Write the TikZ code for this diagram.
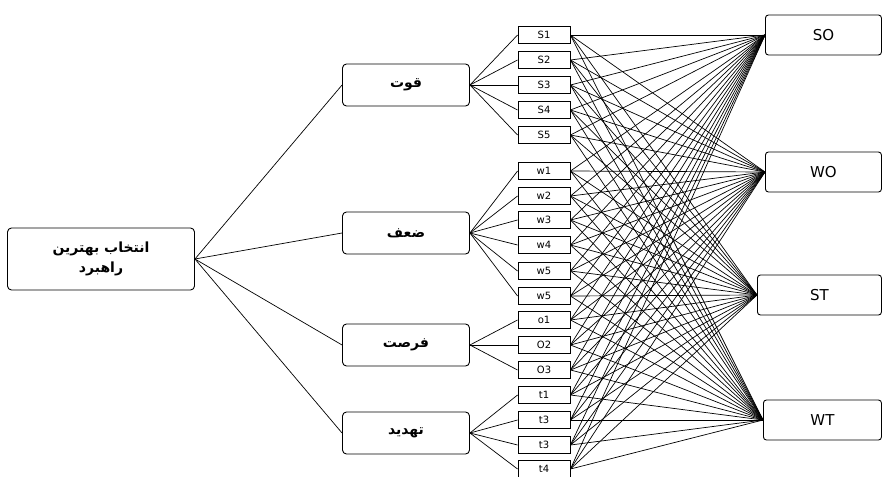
\documentclass[tikz,border=0pt]{standalone}
\usepackage{fontspec}
\setmainfont{DejaVu Sans}
\newfontfamily\arabicfont[Script=Arabic]{DejaVu Sans}
\TeXXeTstate=1
\usetikzlibrary{positioning}
\tikzset{
  goal box/.style={draw, line width=0.9pt, rounded corners=4pt, minimum width=187pt, minimum height=62pt,
    align=center, font=\arabicfont\bfseries\fontsize{14}{20}\selectfont},
  group box/.style={draw, line width=0.9pt, rounded corners=4pt, minimum width=127pt, minimum height=42pt,
    font=\arabicfont\bfseries\fontsize{14}{16}\selectfont},
  item box/.style={draw, line width=0.9pt, minimum width=52pt, minimum height=17pt, inner sep=0pt,
    font=\fontsize{10}{11}\selectfont},
  result box/.style={draw, line width=0.9pt, rounded corners=3pt, minimum height=40pt, anchor=west,
    font=\fontsize{15}{17}\selectfont},
  link/.style={line width=0.7pt}
}
\begin{document}
\begin{tikzpicture}[x=1pt,y=-1pt]
  \useasboundingbox (0,0) rectangle (882,476);
  % goal
  \node[goal box] (goal) at (101,259) {\beginR انتخاب بهترین\endR\\\beginR راهبرد\endR};

  % swot groups
  \node[group box] (S) at (406,85)  {\beginR قوت\endR};
  \node[group box] (W) at (406,233) {\beginR ضعف\endR};
  \node[group box] (O) at (406,345) {\beginR فرصت\endR};
  \node[group box] (T) at (406,433) {\beginR تهدید\endR};

  % factors
  \foreach \name/\txt/\y in {s1/S1/35, s2/S2/60, s3/S3/85, s4/S4/110, s5/S5/135,
      w1/w1/171, w2/w2/196, w3/w3/220, w4/w4/245, w5/w5/271, w6/w5/296,
      o1/o1/320, o2/O2/345, o3/O3/370,
      t1/t1/395, t2/t3/420, t3/t3/445, t4/t4/469}
    \node[item box] (\name) at (544,\y) {\txt};

  % strategies
  \node[result box, minimum width=116pt] (SO) at (765,35)  {SO};
  \node[result box, minimum width=116pt] (WO) at (765,172) {WO};
  \node[result box, minimum width=124pt] (ST) at (757,295) {ST};
  \node[result box, minimum width=118pt] (WT) at (763,420) {WT};

  \foreach \g in {S,W,O,T}
    \draw[link] (goal.east) -- (\g.west);

  \foreach \g/\items in {S/{s1,s2,s3,s4,s5}, W/{w1,w2,w3,w4,w5,w6}, O/{o1,o2,o3}, T/{t1,t2,t3,t4}}
    \foreach \i in \items
      \draw[link] (\g.east) -- (\i.west);

  \foreach \i in {s1,s2,s3,s4,s5,w1,w2,w3,w4,w5,w6,o1,o2,o3,t1,t2,t3,t4}
    \foreach \r in {SO,WO,ST,WT}
      \draw[link] (\i.east) -- (\r.west);
\end{tikzpicture}
\end{document}
